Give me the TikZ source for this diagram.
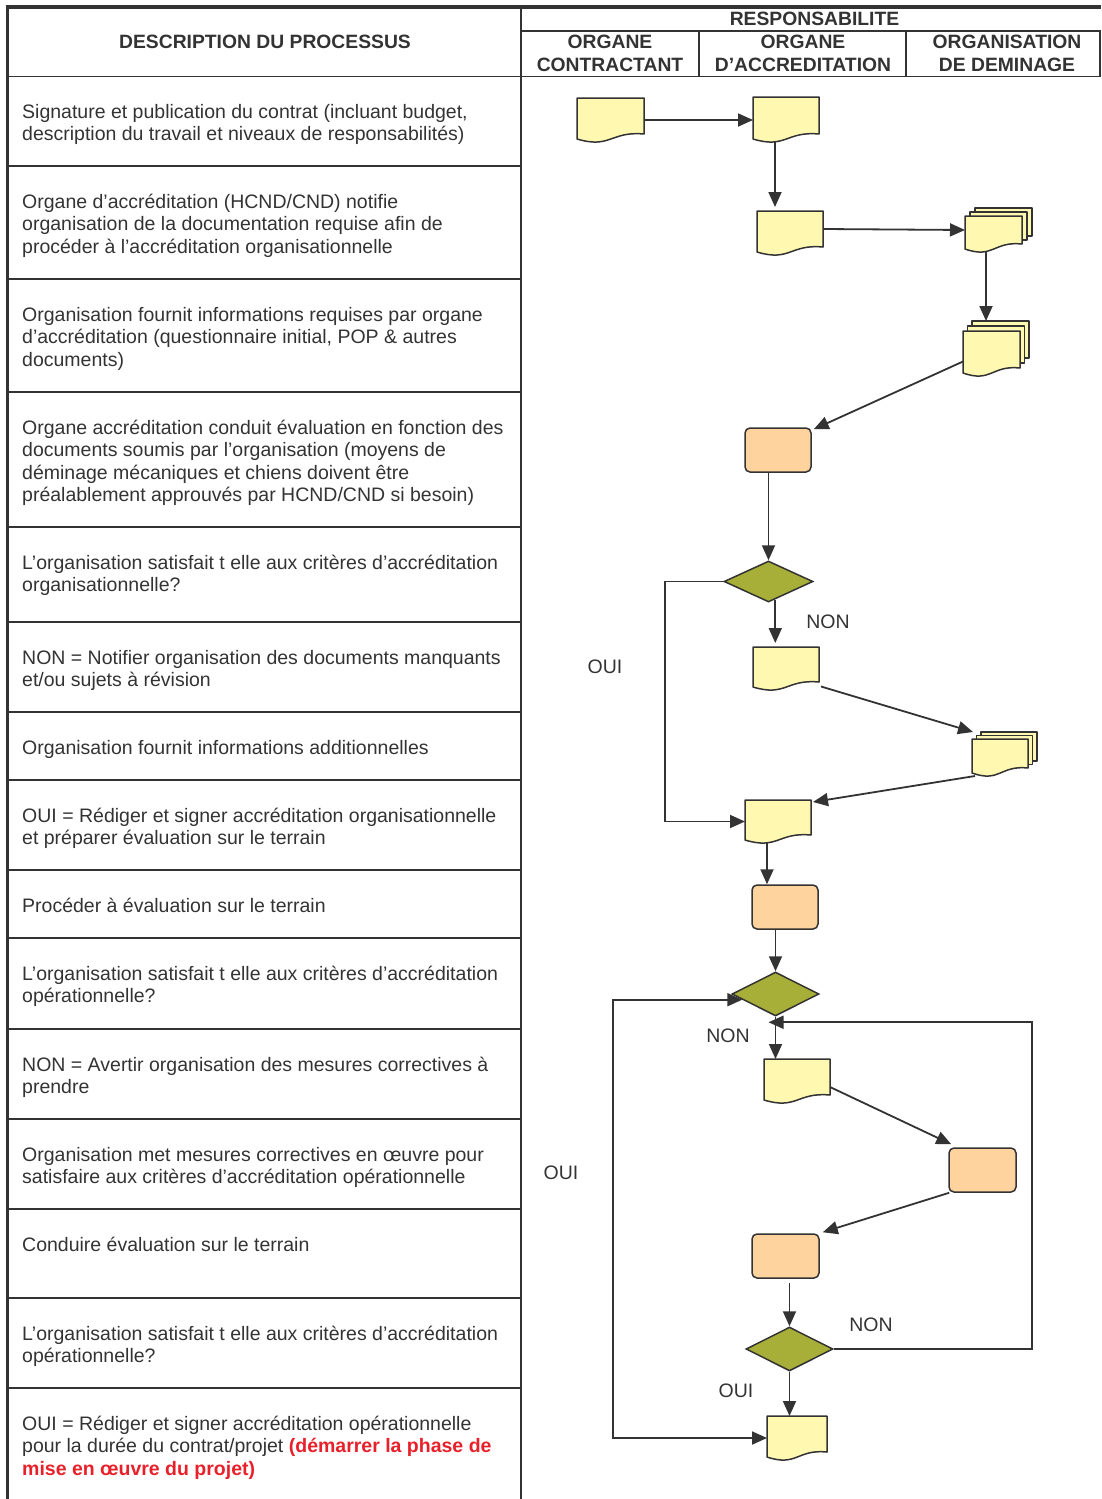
\documentclass[tikz,border=0pt]{standalone}
\usepackage{fontspec}
\setmainfont{Liberation Sans}
\usetikzlibrary{arrows.meta,shapes.geometric,calc}

\definecolor{linegray}{HTML}{333333}
\definecolor{docfill}{HTML}{FFF8B0}
\definecolor{procfill}{HTML}{FFD39E}
\definecolor{decfill}{HTML}{A7AF38}
\definecolor{alertred}{HTML}{E8202A}

\tikzstyle{docbox} = [rectangle, inner sep=0pt, outer sep=0pt, minimum width=66pt, minimum height=44pt]
\tikzstyle{docline} = [draw=linegray, fill=docfill, line width=1.5pt, line join=round]
\tikzstyle{process} = [rectangle, rounded corners=5pt, draw=linegray, fill=procfill, line width=1.5pt, minimum width=66pt, minimum height=44pt, inner sep=0pt]
\tikzstyle{decision} = [diamond, draw=linegray, fill=decfill, line width=1.5pt, minimum width=87pt, minimum height=44pt, inner sep=0pt]
\tikzstyle{arr} = [-{Triangle[length=15pt,width=13pt]}, draw=linegray, line width=1.8pt]
\tikzstyle{arrboth} = [{Triangle[length=15pt,width=13pt]}-{Triangle[length=15pt,width=13pt]}, draw=linegray, line width=1.8pt]
\tikzstyle{lbl} = [font=\fontsize{19.5}{22.5}\selectfont, text=linegray, inner sep=0pt]
\tikzstyle{rowtext} = [anchor=north west, align=left, inner sep=0pt, font=\fontsize{19.5}{22.5}\selectfont, text=linegray]
\tikzstyle{head} = [align=center, inner sep=0pt, font=\bfseries\fontsize{19.3}{22.5}\selectfont, text=linegray]
\tikzstyle{frame} = [draw=linegray, line width=1.2pt]
\tikzstyle{thickframe} = [draw=linegray, line width=3.4pt]

% document sheet with wavy bottom, drawn round an empty node
\newcommand{\drawdoc}[1]{\draw[docline] (#1.north west) -- (#1.north east) -- ([yshift=8pt]#1.south east)
  .. controls ([yshift=11pt]#1.south) and ([yshift=-7pt]#1.south) .. ([yshift=3pt]#1.south west) -- cycle;}
% stack of three sheets
\newcommand{\drawstack}[3]{%
  \foreach \k in {2,1}{\draw[docline] ([shift={(\k*#2,\k*#3)}]#1.north west) rectangle ([shift={(\k*#2,\k*#3+8)}]#1.south east);}
  \drawdoc{#1}}

\begin{document}
\begin{tikzpicture}[x=1pt, y=1pt]
\useasboundingbox (0,0) rectangle (1101,-1499);

% table
\draw[thickframe] (5.5,-6.8) -- (1101,-6.8);
\draw[thickframe] (7.5,-5.1) -- (7.5,-1499);
\draw[frame] (521,-8) -- (521,-1499);
\draw[frame] (521,-31) -- (1101,-31);
\draw[frame] (9,-76.5) -- (1101,-76.5);
\draw[frame] (699,-31) -- (699,-76.5);
\draw[frame] (906,-31) -- (906,-76.5);
\draw[frame] (1100,-31) -- (1100,-76.5);
\foreach \y in {166,279,392,527,622,712,780,870,938,1029,1119,1209,1298,1388}
  \draw[frame] (9,-\y) -- (521,-\y);

\node[head] (desc) at (265,-42) {DESCRIPTION DU PROCESSUS};
\node[head] (resp) at (814.5,-19) {RESPONSABILITE};
\node[head] (contr) at (610,-53.5) {ORGANE\\CONTRACTANT};
\node[head] (accr) at (803,-53.5) {ORGANE\\D’ACCREDITATION};
\node[head] (demin) at (1007,-53.5) {ORGANISATION\\DE DEMINAGE};

\node[rowtext] (r1) at (22,-102.5) {\strut Signature et publication du contrat (incluant budget,\\description du travail et niveaux de responsabilités)};
\node[rowtext] (r2) at (22,-192.5) {\strut Organe d’accréditation (HCND/CND) notifie\\organisation de la documentation requise afin de\\procéder à l’accréditation organisationnelle};
\node[rowtext] (r3) at (22,-305.5) {\strut Organisation fournit informations requises par organe\\d’accréditation (questionnaire initial, POP \& autres\\documents)};
\node[rowtext] (r4) at (22,-418.5) {\strut Organe accréditation conduit évaluation en fonction des\\documents soumis par l’organisation (moyens de\\déminage mécaniques et chiens doivent être\\préalablement approuvés par HCND/CND si besoin)};
\node[rowtext] (r5) at (22,-553.5) {\strut L’organisation satisfait t elle aux critères d’accréditation\\organisationnelle?};
\node[rowtext] (r6) at (22,-648.5) {\strut NON = Notifier organisation des documents manquants\\et/ou sujets à révision};
\node[rowtext] (r7) at (22,-738.5) {\strut Organisation fournit informations additionnelles};
\node[rowtext] (r8) at (22,-806.5) {\strut OUI = Rédiger et signer accréditation organisationnelle\\et préparer évaluation sur le terrain};
\node[rowtext] (r9) at (22,-896.5) {\strut Procéder à évaluation sur le terrain};
\node[rowtext] (r10) at (22,-964.5) {\strut L’organisation satisfait t elle aux critères d’accréditation\\opérationnelle?};
\node[rowtext] (r11) at (22,-1055.5) {\strut NON = Avertir organisation des mesures correctives à\\prendre};
\node[rowtext] (r12) at (22,-1145.5) {\strut Organisation met mesures correctives en œuvre pour\\satisfaire aux critères d’accréditation opérationnelle};
\node[rowtext] (r13) at (22,-1235.5) {\strut Conduire évaluation sur le terrain};
\node[rowtext] (r14) at (22,-1324.5) {\strut L’organisation satisfait t elle aux critères d’accréditation\\opérationnelle?};
\node[rowtext] (r15) at (22,-1414.5) {\strut OUI = Rédiger et signer accréditation opérationnelle\\pour la durée du contrat/projet \textcolor{alertred}{\bfseries(démarrer la phase de}\\\textcolor{alertred}{\bfseries mise en œuvre du projet)}};

% flow
\node[docbox, minimum width=67pt] (d1) at (610.5,-120) {};
\drawdoc{d1}
\node[docbox, minimum height=45pt] (d2) at (786,-119.5) {};
\drawdoc{d2}
\node[docbox] (d3) at (790,-233) {};
\drawdoc{d3}
\node[docbox, minimum width=57pt, minimum height=36pt] (m1) at (993.5,-234) {};
\drawstack{m1}{5}{4}
\node[docbox, minimum width=57pt, minimum height=45pt] (m2) at (991.5,-353.5) {};
\drawstack{m2}{4.5}{5}
\node[process] (p1) at (778,-450) {};
\node[decision, minimum width=89pt, minimum height=41pt] (q1) at (768.5,-581.5) {};
\node[docbox, minimum height=43pt] (d4) at (786,-668.5) {};
\drawdoc{d4}
\node[docbox, minimum width=56pt, minimum height=37pt] (m3) at (1000,-757.5) {};
\drawstack{m3}{4.5}{3.5}
\node[docbox, minimum height=43pt] (d5) at (778,-821.5) {};
\drawdoc{d5}
\node[process] (p2) at (785,-907) {};
\node[decision] (q2) at (775.5,-994) {};
\node[docbox] (d6) at (797,-1081) {};
\drawdoc{d6}
\node[process, minimum width=67pt] (p3) at (982.5,-1170) {};
\node[process, minimum width=67pt] (p4) at (785.5,-1256) {};
\node[decision] (q3) at (789.5,-1349) {};
\node[docbox, minimum width=60pt] (d7) at (797,-1438) {};
\drawdoc{d7}

\coordinate (q1non) at ($(q1.south)!0.15!(q1.east)$);
\coordinate (q2oui) at ($(q2.west)!0.25!(q2.south)$);
\coordinate (q2back) at ([xshift=-7pt,yshift=-5.5pt]q2.south);

\draw[arr] (d1.east) -- (d1.east -| d2.west);
\draw[arr, shorten >=4pt] ([xshift=-11pt]d2.south) -- ([xshift=-11pt]d2.south |- d3.north);
\draw[arr] ([yshift=4pt]d3.east) -- ([yshift=4pt]m1.west);
\draw[arr] ([xshift=-7.5pt]m1.south) -- ([xshift=-5.5pt,yshift=10pt]m2.north);
\draw[arr] ([yshift=-8pt]m2.west) -- ([xshift=2pt,yshift=-2pt]p1.north east);
\draw[arr] (p1.south -| q1.north) -- (q1.north);
\draw[arr, shorten >=4pt] (q1non) -- (q1non |- d4.north);
\draw[arr] ([xshift=2pt,yshift=-18pt]d4.east) -- ([xshift=1pt,yshift=7pt]m3.north west);
\draw[arr] ([xshift=3pt]m3.south west) -- ([xshift=2pt,yshift=-2pt]d5.north east);
\draw[arr] (q1.west) -- ++(-58,0) |- (d5.west);
\draw[arr] ([xshift=-11pt]d5.south) -- ([xshift=-11pt]d5.south |- p2.north);
\draw[arr] (p2.south -| q2.north) -- (q2.north);
\draw[arr] (q2.south) -- (q2.south |- d6.north);
\draw[arr] ([yshift=-6pt]d6.east) -- ([xshift=3pt,yshift=3pt]p3.north west);
\draw[arr] ([xshift=1pt]p3.south west) -- ([xshift=3pt,yshift=1pt]p4.north east);
\draw[arr] ([yshift=-4pt]p4.south -| q3.north) -- (q3.north);
\draw[arr] (q3.south) -- (q3.south |- d7.north);
\draw[arr] (q3.east) -- ++(198,0) |- (q2back);
\draw[arrboth] (q2oui) -- ++(-129,0) |- (d7.west);

\node[lbl] (non1) at (828,-622) {NON};
\node[lbl] (oui1) at (605,-667) {OUI};
\node[lbl] (non2) at (728,-1036) {NON};
\node[lbl] (oui2) at (561,-1173) {OUI};
\node[lbl] (non3) at (871,-1325) {NON};
\node[lbl] (oui3) at (736,-1391) {OUI};
\end{tikzpicture}
\end{document}
